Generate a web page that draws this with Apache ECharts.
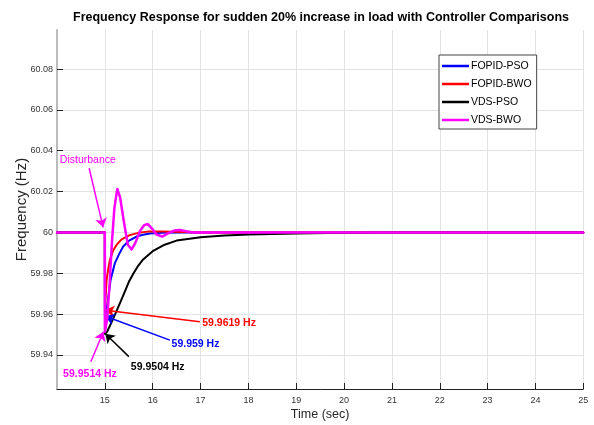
<!DOCTYPE html>
<html>
<head>
<meta charset="utf-8">
<script src="https://cdn.jsdelivr.net/npm/echarts@6/dist/echarts.min.js"></script>
<style>
  html, body { margin: 0; padding: 0; background: #fff; }
  #chart { width: 594px; height: 425px; }
</style>
</head>
<body>
<div id="chart"></div>
<script>
// Frequency response after a 20% step load increase at t = 15 s

// FOPID-PSO
const tFopidPso = [14, 15, 15.002, 15.036, 15.07, 15.12, 15.21, 15.3, 15.38, 15.5, 15.66, 15.8, 15.94, 16.2, 16.6, 25];
const fFopidPso = [60, 60, 59.959, 59.962, 59.968, 59.9767, 59.985, 59.9895, 59.993, 59.9959, 59.998, 59.9989, 59.9995, 59.9999, 60, 60];

// FOPID-BWO
const tFopidBwo = [14, 15, 15.002, 15.02, 15.036, 15.07, 15.105, 15.17, 15.244, 15.35, 15.52, 15.7, 15.9, 16.2, 16.6, 17, 25];
const fFopidBwo = [60, 60, 59.9619, 59.970, 59.9767, 59.982, 59.9865, 59.991, 59.9939, 59.9966, 59.9987, 59.9998, 60.0004, 60.0005, 60.0002, 60, 60];

// VDS-PSO
const tVdsPso = [14, 15, 15.002, 15.05, 15.1, 15.2, 15.3, 15.4, 15.5, 15.6, 15.7, 15.8, 16.0, 16.25, 16.5, 17, 17.5, 18, 19, 20, 21, 25];
const fVdsPso = [60, 60, 59.9504, 59.9515, 59.954, 59.9592, 59.9645, 59.970, 59.9757, 59.980, 59.9838, 59.9868, 59.9908, 59.994, 59.996, 59.9977, 59.9985, 59.999, 59.9995, 59.9998, 60, 60];

// VDS-BWO
const tVdsBwo = [14, 15, 15.002, 15.05, 15.1, 15.15, 15.2, 15.26, 15.32, 15.4, 15.48, 15.56, 15.64, 15.74, 15.82, 15.9, 15.98, 16.08, 16.2, 16.32, 16.45, 16.57, 16.7, 16.85, 17.2, 25];
const fVdsBwo = [60, 60, 59.9514, 59.958, 59.975, 59.996, 60.012, 60.0213, 60.017, 60.005, 59.994, 59.9917, 59.995, 60.001, 60.0035, 60.0041, 60.002, 59.999, 59.998, 59.9995, 60.0009, 60.0012, 60.0006, 60, 60, 60];

const seriesNames = ['FOPID-PSO', 'FOPID-BWO', 'VDS-PSO', 'VDS-BWO'];

// Tick labels
const xTicks = [15, 16, 17, 18, 19, 20, 21, 22, 23, 24, 25];
const yTicks = [59.94, 59.96, 59.98, 60, 60.02, 60.04, 60.06, 60.08];

// Style
const FONT = '"Liberation Sans", Arial, Helvetica, sans-serif';
const colors = ['#0000ff', '#ff0000', '#000000', '#ff00ff'];
const widths = [2, 2, 2, 2.5];

const times = [tFopidPso, tFopidBwo, tVdsPso, tVdsBwo];
const freqs = [fFopidPso, fFopidBwo, fVdsPso, fVdsBwo];
const pairs = (t, f) => t.map((v, i) => [v, f[i]]);

// Callouts: arrow tail (data units), label anchor (data units), series index for nadir
const nadirCallouts = [
  { idx: 1, tail: [16.986, 59.9563], tipT: 15.01, label: [17.035, 59.9555] },
  { idx: 0, tail: [16.359, 59.9473], tipT: 15.01, label: [16.394, 59.9452] },
  { idx: 2, tail: [15.502, 59.9392], tipT: 15.01, label: [15.544, 59.9340] },
  { idx: 3, tail: [14.707, 59.9367], tipT: 14.97, label: [14.128, 59.9307] }
];
const disturbance = { text: 'Disturbance', tail: [14.672, 60.0314], tip: [14.964, 60.0025], label: [14.059, 60.0355] };

const chart = echarts.init(document.getElementById('chart'), null, { renderer: 'canvas' });

const arrowLines = nadirCallouts.map(c => [
  { coord: c.tail, lineStyle: { color: colors[c.idx] } },
  { coord: [c.tipT, Math.min(...freqs[c.idx])] }
]);
arrowLines.push([
  { coord: disturbance.tail, lineStyle: { color: '#ff00ff' } },
  { coord: disturbance.tip }
]);

const series = seriesNames.map((name, i) => ({
  name,
  type: 'line',
  data: pairs(times[i], freqs[i]),
  showSymbol: false,
  symbol: 'none',
  smooth: false,
  lineStyle: { color: colors[i], width: widths[i], cap: 'round', join: 'round' },
  itemStyle: { color: colors[i] },
  z: 2 + i,
  animation: false
}));

series.push({
  name: 'callouts',
  type: 'line',
  data: [],
  silent: true,
  z: 10,
  animation: false,
  markLine: {
    silent: true,
    animation: false,
    symbol: ['none', 'arrow'],
    symbolSize: 9,
    label: { show: false },
    lineStyle: { width: 1.5, type: 'solid' },
    emphasis: { disabled: true },
    data: arrowLines
  }
});

chart.setOption({
  animation: false,
  backgroundColor: '#ffffff',
  title: {
    text: 'Frequency Response for sudden 20% increase in load with Controller Comparisons',
    left: 321,
    top: 11,
    padding: 0,
    textAlign: 'center',
    textStyle: { fontFamily: FONT, fontSize: 12.5, fontWeight: 'bold', color: '#000' }
  },
  grid: { left: 57, right: 10.7, top: 30, bottom: 36, containLabel: false, outerBoundsMode: 'none' },
  legend: {
    data: seriesNames,
    orient: 'vertical',
    left: 439,
    top: 55,
    padding: [5.5, 5, 3.5, 3],
    icon: 'rect',
    itemWidth: 27,
    itemHeight: 2.5,
    itemGap: 7,
    backgroundColor: '#ffffff',
    borderColor: '#444444',
    borderWidth: 1,
    borderRadius: 0,
    textStyle: { fontFamily: FONT, fontSize: 10.5, color: '#000', padding: [0, 0, 0, -3] }
  },
  xAxis: {
    type: 'value',
    min: 14,
    max: 25,
    interval: 1,
    name: 'Time (sec)',
    nameLocation: 'middle',
    nameGap: 19,
    nameMoveOverlap: false,
    nameTextStyle: { fontFamily: FONT, fontSize: 12.5, color: '#262626' },
    axisLine: { show: true, onZero: false, lineStyle: { color: '#222', width: 1 } },
    axisTick: { show: true, inside: true, length: 6, customValues: xTicks, lineStyle: { color: '#222' } },
    axisLabel: { customValues: xTicks, margin: 7, fontFamily: FONT, fontSize: 9, color: '#333' },
    splitLine: { show: true, lineStyle: { color: '#e3e3e3', width: 1 } }
  },
  yAxis: {
    type: 'value',
    min: 59.92336,
    max: 60.0991,
    name: 'Frequency (Hz)',
    nameLocation: 'middle',
    nameGap: 28,
    nameMoveOverlap: false,
    nameTextStyle: { fontFamily: FONT, fontSize: 15, color: '#262626' },
    axisLine: { show: true, onZero: false, lineStyle: { color: '#bbbbbb', width: 2 } },
    axisTick: { show: true, inside: true, length: 6, customValues: yTicks, lineStyle: { color: '#222' } },
    axisLabel: {
      customValues: yTicks,
      margin: 4,
      fontFamily: FONT,
      fontSize: 9,
      color: '#333',
      formatter: v => String(+(+v).toFixed(2))
    },
    splitLine: { show: true, lineStyle: { color: '#e3e3e3', width: 1 } }
  },
  series
});

// Callout texts placed at data coordinates
const textEls = nadirCallouts.map(c => {
  const p = chart.convertToPixel({ gridIndex: 0 }, c.label);
  return {
    type: 'text',
    x: p[0],
    y: p[1],
    z: 20,
    silent: true,
    style: {
      text: Math.min(...freqs[c.idx]) + ' Hz',
      fill: colors[c.idx],
      font: 'bold 10.5px ' + FONT,
      textVerticalAlign: 'middle',
      textAlign: 'left'
    }
  };
});
const dp = chart.convertToPixel({ gridIndex: 0 }, disturbance.label);
textEls.push({
  type: 'text',
  x: dp[0],
  y: dp[1],
  z: 20,
  silent: true,
  style: {
    text: disturbance.text,
    fill: '#ff00ff',
    font: '10.5px ' + FONT,
    textVerticalAlign: 'middle',
    textAlign: 'left'
  }
});
chart.setOption({ graphic: textEls });
</script>
</body>
</html>
